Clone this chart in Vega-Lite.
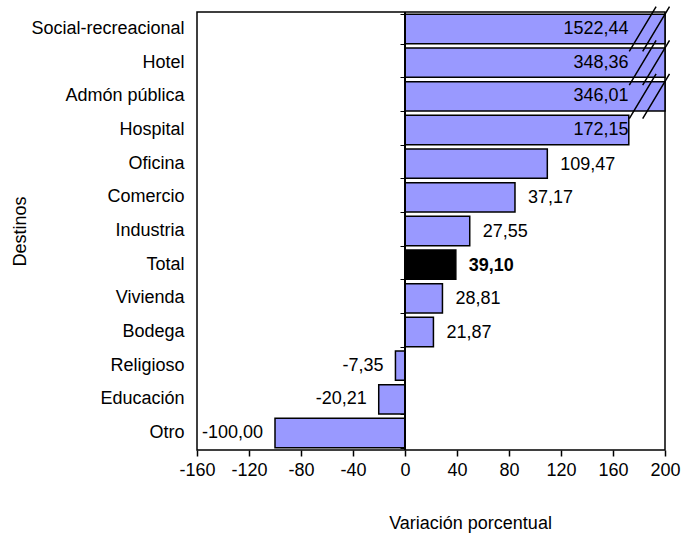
{
  "$schema": "https://vega.github.io/schema/vega-lite/v6.json",
  "autosize": {"type": "none"},
  "width": 468,
  "height": 438,
  "padding": {"left": 197, "top": 12, "right": 17, "bottom": 86},
  "background": "white",
  "data": {
    "values": [
      {"destino": "Social-recreacional", "valor": 1522.44, "etiqueta": "1522,44"},
      {"destino": "Hotel", "valor": 348.36, "etiqueta": "348,36"},
      {"destino": "Admón pública", "valor": 346.01, "etiqueta": "346,01"},
      {"destino": "Hospital", "valor": 172.15, "etiqueta": "172,15"},
      {"destino": "Oficina", "valor": 109.47, "etiqueta": "109,47"},
      {"destino": "Comercio", "valor": 84.6, "etiqueta": "37,17"},
      {"destino": "Industria", "valor": 49.8, "etiqueta": "27,55"},
      {"destino": "Total", "valor": 39.10, "etiqueta": "39,10"},
      {"destino": "Vivienda", "valor": 28.81, "etiqueta": "28,81"},
      {"destino": "Bodega", "valor": 21.87, "etiqueta": "21,87"},
      {"destino": "Religioso", "valor": -7.35, "etiqueta": "-7,35"},
      {"destino": "Educación", "valor": -20.21, "etiqueta": "-20,21"},
      {"destino": "Otro", "valor": -100.00, "etiqueta": "-100,00"}
    ]
  },
  "resolve": {"axis": {"y": "independent"}},
  "layer": [
    {
      "mark": {"type": "bar", "stroke": "black", "strokeWidth": 1.5},
      "encoding": {
        "y": {"field": "destino", "type": "nominal", "sort": null,
              "scale": {"paddingInner": 0.13, "paddingOuter": 0.07},
              "axis": {"title": "Destinos", "ticks": false, "domain": false, "labelPadding": 13,
                       "titleAngle": -90, "titleX": -177, "titleY": 219, "titleAlign": "center", "titleBaseline": "middle"}},
        "x": {"field": "valor", "type": "quantitative",
              "scale": {"domain": [-160, 200], "nice": false, "clamp": true, "zero": false},
              "axis": {"title": "Variación porcentual", "values": [-160, -120, -80, -40, 0, 40, 80, 120, 160, 200],
                       "format": "d", "labelOverlap": false, "labelBound": false, "labelFlush": false,
                       "titleX": 273, "titleY": 73, "titleAlign": "center", "titleBaseline": "middle"}},
        "color": {"condition": {"test": "datum.destino === 'Total'", "value": "black"}, "value": "#9999FF"}
      }
    },
    {
      "mark": {"type": "rule", "stroke": "black", "strokeWidth": 1.5},
      "encoding": {"x": {"datum": 0, "type": "quantitative"}}
    },
    {
      "transform": [{"filter": "datum.valor > 0 && datum.valor < 150 && datum.destino !== 'Total'"}],
      "mark": {"type": "text", "align": "left", "baseline": "middle", "dx": 13, "dy": 1, "fontSize": 18, "font": "Liberation Sans", "color": "black"},
      "encoding": {
        "y": {"field": "destino", "type": "nominal", "sort": null, "axis": null},
        "x": {"field": "valor", "type": "quantitative"},
        "text": {"field": "etiqueta", "type": "nominal"}
      }
    },
    {
      "transform": [{"filter": "datum.destino === 'Total'"}],
      "mark": {"type": "text", "align": "left", "baseline": "middle", "dx": 13, "dy": 1, "fontSize": 18, "fontWeight": "bold", "font": "Liberation Sans", "color": "black"},
      "encoding": {
        "y": {"field": "destino", "type": "nominal", "sort": null, "axis": null},
        "x": {"field": "valor", "type": "quantitative"},
        "text": {"field": "etiqueta", "type": "nominal"}
      }
    },
    {
      "transform": [{"filter": "datum.valor < 0"}],
      "mark": {"type": "text", "align": "right", "baseline": "middle", "dx": -12, "fontSize": 18, "font": "Liberation Sans", "color": "black"},
      "encoding": {
        "y": {"field": "destino", "type": "nominal", "sort": null, "axis": null},
        "x": {"field": "valor", "type": "quantitative"},
        "text": {"field": "etiqueta", "type": "nominal"}
      }
    },
    {
      "transform": [{"filter": "datum.valor >= 150"}],
      "mark": {"type": "text", "align": "right", "baseline": "middle", "dx": 0, "fontSize": 18, "font": "Liberation Sans", "color": "black"},
      "encoding": {
        "y": {"field": "destino", "type": "nominal", "sort": null, "axis": null},
        "x": {"datum": 172, "type": "quantitative"},
        "text": {"field": "etiqueta", "type": "nominal"}
      }
    },
    {
      "transform": [{"filter": "datum.valor > 200"}],
      "mark": {"type": "point", "shape": "M-0.9,1L0.3,-1M-0.3,1L0.9,-1", "size": 2000, "filled": false, "stroke": "black", "strokeWidth": 1.5, "opacity": 1},
      "encoding": {
        "y": {"field": "destino", "type": "nominal", "sort": null,
              "axis": {"orient": "right", "offset": -260, "labels": false, "title": null, "ticks": true, "tickSize": -5, "tickBand": "extent", "domain": false, "tickColor": "black", "tickWidth": 1}},
        "x": {"datum": 188, "type": "quantitative"}
      }
    }
  ],
  "config": {
    "view": {"stroke": "black", "strokeWidth": 1.5},
    "locale": {"number": {"decimal": ",", "thousands": ".", "grouping": [3], "currency": ["", ""], "minus": "-"}},
    "axis": {
      "labelFont": "Liberation Sans", "labelFontSize": 18, "labelColor": "black",
      "titleFont": "Liberation Sans", "titleFontSize": 18, "titleFontWeight": "normal", "titleColor": "black",
      "grid": false, "domain": false
    },
    "axisX": {"tickColor": "black", "tickWidth": 1.5, "tickSize": 6, "labelPadding": 5}
  }
}
